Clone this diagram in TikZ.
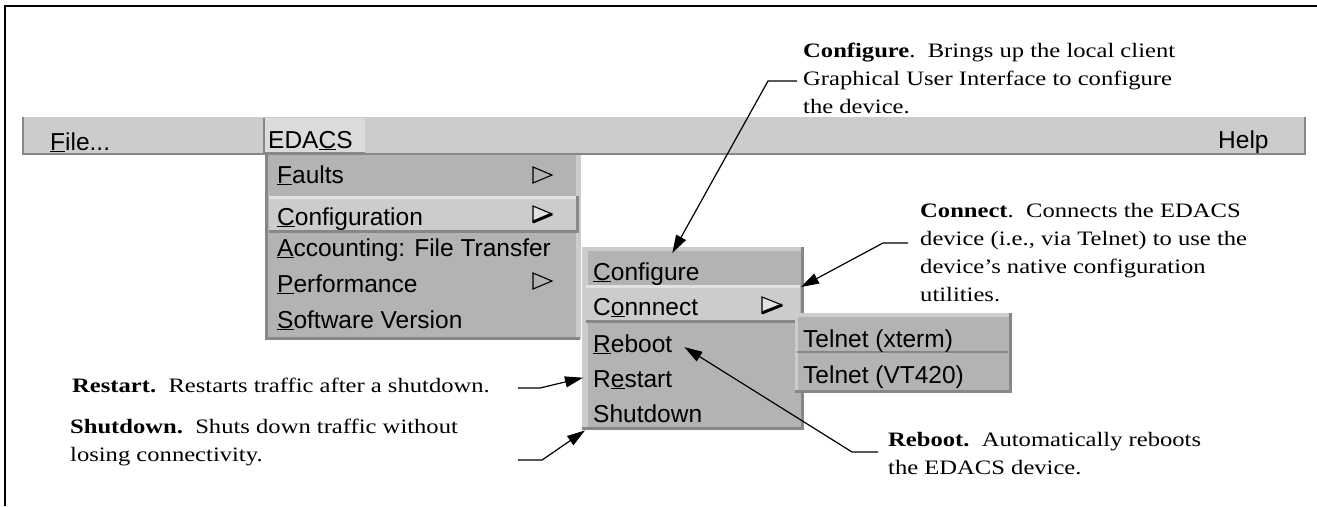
\documentclass[tikz,border=0pt]{standalone}
\usepackage{fontspec}
\newfontfamily\notefont{Liberation Serif}[FakeStretch=1.2]
\newfontfamily\menufont{Liberation Sans}
\usetikzlibrary{arrows.meta}
\definecolor{barGray}{HTML}{CCCCCC}
\definecolor{menuGray}{HTML}{B3B3B3}
\definecolor{edgeDark}{HTML}{878787}
\definecolor{edgeLight}{HTML}{E2E2E2}

\begin{document}
\begin{tikzpicture}[x=1pt,y=-1pt]
        \tikzstyle{every node}+=[inner sep=0pt]
        \tikzstyle{item}=[anchor=base west, font=\menufont\fontsize{24.5}{28}\selectfont]
        \tikzstyle{note}=[anchor=west, align=left, font=\notefont\fontsize{20.5}{28}\selectfont]
        \tikzstyle{leader}=[black, line width=1.2pt, -{Triangle[length=18pt,width=11pt]}]
        \tikzstyle{arrowmark}=[black, line width=1.1pt, line join=miter]
        \useasboundingbox (0,0) rectangle (1317,506);
        % frame
        \draw [black, line width=2.5pt] (5,506) -- (5,6) -- (1317,6);
        % menu bar
        \fill [barGray] (22,117) rectangle (1306,155);
        \draw [edgeDark, line width=2pt] (23,117) -- (23,154) -- (1305,154) -- (1305,117);
        \fill [barGray!70!white] (263,118) rectangle (365,153);
        \draw [edgeDark, line width=2.5pt] (264,118) -- (264,153) -- (365,153);
        \node [item] (fileItem) at (50,150) {\underline{F}ile...};
        \node [item] (edacsItem) at (268,148) {EDA\underline{C}S};
        \node [item] (helpItem) at (1218,148) {Help};
        % EDACS menu
        \fill [menuGray] (265,155) rectangle (580,339);
        \fill [barGray] (576,155) rectangle (581,339);
        \draw [edgeDark, line width=3pt] (266,155) -- (266,338) -- (580,338);
        \fill [barGray] (269,196) rectangle (578,232);
        \draw [edgeLight, line width=3pt] (269,197.5) -- (578,197.5);
        \draw [edgeDark, line width=3pt] (269,231) -- (577,231) -- (577,196);
        \node [item] (faultsItem) at (277,183) {\underline{F}aults};
        \node [item] (configurationItem) at (277,225) {\underline{C}onfiguration};
        \node [item] (accountingItem) at (277,256) {\underline{A}ccounting: File Transfer};
        \node [item] (performanceItem) at (277,292) {\underline{P}erformance};
        \node [item] (softwareItem) at (277,328) {\underline{S}oftware Version};
        \draw [arrowmark] (533,167) -- (552,175) -- (533,183) -- cycle;
        \fill [edgeLight] (533,206) -- (552,214) -- (533,222) -- cycle;
        \draw [arrowmark] (533,206) -- (552,214) -- (533,222) -- cycle;
        \draw [black, line width=3pt] (533,222) -- (552,214);
        \draw [arrowmark] (533,273) -- (552,281) -- (533,289) -- cycle;
        % Configuration menu
        \fill [barGray] (582,247) rectangle (804,430);
        \fill [menuGray] (588,251) rectangle (801,427);
        \draw [edgeDark, line width=3pt] (582,428.5) -- (802.5,428.5) -- (802.5,247);
        \fill [barGray] (586,285) rectangle (800,322);
        \draw [edgeLight, line width=3pt] (586,286.5) -- (800,286.5);
        \draw [edgeDark, line width=3pt] (586,321) -- (800,321);
        \node [item] (configureItem) at (593,280) {\underline{C}onfigure};
        \node [item] (connnectItem) at (593,315) {C\underline{o}nnnect};
        \node [item] (rebootItem) at (593,352) {\underline{R}eboot};
        \node [item] (restartItem) at (593,387) {R\underline{e}start};
        \node [item] (shutdownItem) at (593,422) {Shutdown};
        \fill [edgeLight] (762,297) -- (782,305) -- (762,313) -- cycle;
        \draw [arrowmark] (762,297) -- (782,305) -- (762,313) -- cycle;
        \draw [black, line width=3pt] (762,313) -- (782,305);
        \coordinate (connnectTip) at (801,287);
        % Connnect submenu
        \fill [barGray] (795,313) rectangle (1012,393);
        \fill [menuGray] (798,317) rectangle (1009,390);
        \draw [edgeDark, line width=3pt] (795,391.5) -- (1010.5,391.5) -- (1010.5,313);
        \draw [edgeDark, line width=2pt] (797,352) -- (1008,352);
        \node [item] (xtermItem) at (803,347) {Telnet (xterm)};
        \node [item] (vtItem) at (803,383) {Telnet (VT420)};
        % notes
        \node [note] (configureNote) at (803,78) {\textbf{Configure}.\ \ Brings up the local client\\Graphical User Interface to configure\\the device.};
        \node [note] (connectNote) at (920,253) {\textbf{Connect}.\ \ Connects the EDACS\\device (i.e., via Telnet) to use the\\device’s native configuration\\utilities.};
        \node [note] (restartNote) at (72,385) {\textbf{Restart.}\ \ Restarts traffic after a shutdown.};
        \node [note] (shutdownNote) at (70,442) {\textbf{Shutdown.}\ \ Shuts down traffic without\\losing connectivity.};
        \node [note] (rebootNote) at (888,454) {\textbf{Reboot.}\ \ Automatically reboots\\the EDACS device.};
        % leaders
        \draw [leader] ([xshift=-6pt,yshift=-3pt]configureNote.west) -- ++(-29,0) -- ([xshift=26pt,yshift=9pt]configureItem.north);
        \draw [leader] ([xshift=-12pt,yshift=10pt]connectNote.west) -- ++(-25,0) -- (connnectTip);
        \draw [leader] ([xshift=28pt,yshift=-3pt]restartNote.east) -- ++(22,0) -- ([xshift=-10pt,yshift=2pt]restartItem.west);
        \draw [leader] ([xshift=60pt,yshift=-18pt]shutdownNote.east) -- ++(24,0) -- ([xshift=-8pt,yshift=-8pt]shutdownItem.south west);
        \draw [leader] ([xshift=-10pt,yshift=2pt]rebootNote.west) -- ++(-26,0) -- ([xshift=12pt,yshift=-3pt]rebootItem.east);
\end{tikzpicture}
\end{document}
